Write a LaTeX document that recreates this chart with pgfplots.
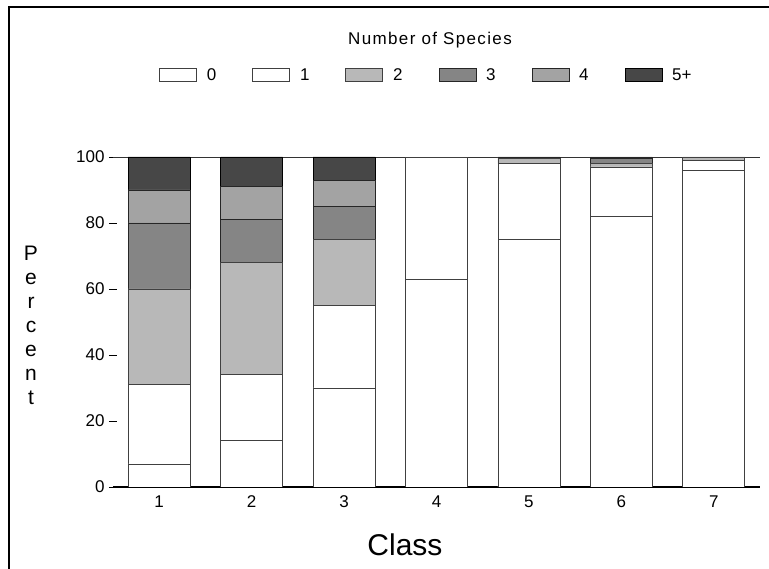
\documentclass[border=0pt]{standalone}
\usepackage{fontspec}
\setmainfont{Liberation Sans}
\usepackage{pgfplots}
\pgfplotsset{compat=1.18}
\definecolor{cTwo}{gray}{0.72}
\definecolor{cThree}{gray}{0.52}
\definecolor{cFour}{gray}{0.64}
\definecolor{cFive}{gray}{0.28}
\pgfplotsset{
  myleg/.style={legend image code/.code={\draw[##1] (0pt,-6.5pt) rectangle (37pt,6.5pt);}}
}
\begin{document}
\begin{tikzpicture}[x=1pt,y=1pt]
\useasboundingbox (0,0) rectangle (769,569);
\draw[line width=2pt] (9,0) -- (9,562) -- (769,562);
\node[font=\fontsize{17}{19}\selectfont\addfontfeatures{LetterSpace=8}] at (430,529) {Number of Species};
\node[font=\fontsize{30}{32}\selectfont] at (405,24) {Class};
\node[font=\fontsize{21}{24}\selectfont, align=center, inner sep=0pt] at (31,244) {P\\e\\r\\c\\e\\n\\t};
\begin{axis}[
  at={(113pt,82pt)}, anchor=south west, scale only axis,
  width=647pt, height=330pt,
  ybar stacked, bar width=62pt,
  xmin=0.5, xmax=7.5, ymin=0, ymax=100,
  axis x line*=bottom, axis y line*=left,
  y axis line style={draw=none},
  x axis line style={line width=1.4pt, -},
  xtick={1,...,7}, ytick={0,20,...,100},
  xtick style={draw=none},
  ytick style={draw=black, line width=0.9pt},
  ytick align=center, major tick length=8pt,
  tick label style={font=\fontsize{17}{19}\selectfont},
  /pgf/number format/assume math mode=true,
  xticklabel style={yshift=-5pt},
  yticklabel style={xshift=-1pt},
  legend columns=6,
  legend style={draw=none, fill=none, at={(0.483,1.248)}, anchor=center,
    font=\fontsize{17}{19}\selectfont,
    nodes={inner sep=0pt},
    /tikz/every odd column/.append style={column sep=10pt},
    /tikz/every even column/.append style={column sep=36pt}},
  every axis plot/.append style={line width=0.6pt},
]
\addplot+[fill=white, draw=black!75, myleg] coordinates {(1,7) (2,14) (3,30) (4,63) (5,75) (6,82) (7,96)};
\addplot+[fill=white, draw=black!75, myleg] coordinates {(1,24) (2,20) (3,25) (4,37) (5,23) (6,15) (7,3)};
\addplot+[fill=cTwo, draw=black!75, myleg] coordinates {(1,29) (2,34) (3,20) (4,0) (5,1.5) (6,1) (7,1)};
\addplot+[fill=cThree, draw=black!85, myleg] coordinates {(1,20) (2,13) (3,10) (4,0) (5,0.5) (6,1.5) (7,0)};
\addplot+[fill=cFour, draw=black!85, myleg] coordinates {(1,10) (2,10) (3,8) (4,0) (5,0) (6,0.5) (7,0)};
\addplot+[fill=cFive, draw=black, myleg] coordinates {(1,10) (2,9) (3,7) (4,0) (5,0) (6,0) (7,0)};
\legend{0,1,2,3,4,5+}
\draw[black!80, line width=0.6pt] (rel axis cs:0,1) -- (rel axis cs:1,1) -- (rel axis cs:1,0);
\end{axis}
\end{tikzpicture}
\end{document}
